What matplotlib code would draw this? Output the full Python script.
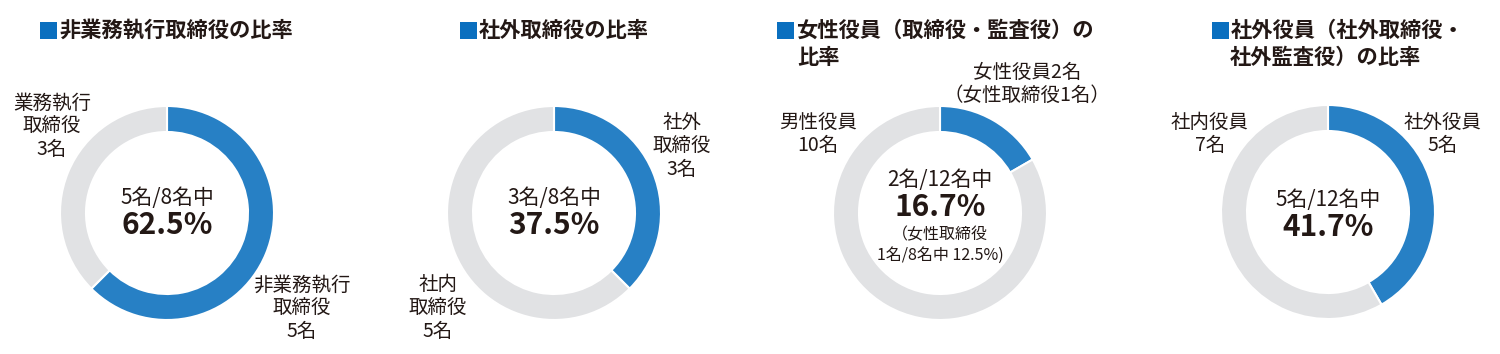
import matplotlib
matplotlib.use("Agg")
import matplotlib.pyplot as plt
from matplotlib.patches import Rectangle

plt.rcParams['font.family'] = ['Noto Sans CJK JP', 'DejaVu Sans']

W, H = 1500, 354

# ---- data ----
titles = [
    ["非業務執行取締役の比率"],
    ["社外取締役の比率"],
    ["女性役員（取締役・監査役）の", "比率"],
    ["社外役員（社外取締役・", "社外監査役）の比率"],
]
highlight_values = [5, 3, 2, 5]
other_values = [3, 5, 10, 7]
highlight_labels = [
    ["非業務執行", "取締役", "5名"],
    ["社外", "取締役", "3名"],
    ["女性役員2名", "（女性取締役1名）"],
    ["社外役員", "5名"],
]
other_labels = [
    ["業務執行", "取締役", "3名"],
    ["社内", "取締役", "5名"],
    ["男性役員", "10名"],
    ["社内役員", "7名"],
]
center_counts = ["5名/8名中", "3名/8名中", "2名/12名中", "5名/12名中"]
center_pcts = ["62.5%", "37.5%", "16.7%", "41.7%"]
extra_note = ["（女性取締役", "1名/8名中 12.5%)"]

# ---- layout (pixels) ----
BLUE = "#2780C5"
GREY = "#E1E2E4"
SQ = "#0A6FBF"
TXT = "#231815"
centers = [(167, 213), (554, 213), (940, 213), (1328, 212)]
R = 107
RING = 26
title_pos = [(40, 30), (460, 30), (777, 30), (1212, 30)]
title_line2_x = [None, None, 797, 1230]
hi_lab_pos = [(302, 285), (682, 123), (1027, 72), (1443, 122)]
ot_lab_pos = [(52, 103), (438, 285), (818, 122), (1210, 122)]
center_y = [(198, 225), (198, 225), (180, 207), (200, 227)]

fig = plt.figure(figsize=(W / 100, H / 100), dpi=100)
ax = fig.add_axes([0, 0, 1, 1])


def Y(y):
    return H - y


def lines(x, y0, texts, step=23, size=14, **kw):
    for i, t in enumerate(texts):
        ax.text(x, Y(y0 + i * step), t, ha='center', va='center',
                fontsize=size, color=TXT, **kw)


for i in range(4):
    cx, cy = centers[i]
    ax.pie([highlight_values[i], other_values[i]], colors=[BLUE, GREY],
           startangle=90, counterclock=False, radius=R,
           center=(cx, Y(cy)),
           wedgeprops=dict(width=RING, edgecolor='white', linewidth=1.5))
    # title
    sx, sy = title_pos[i]
    ax.add_patch(Rectangle((sx, Y(sy) - 8.5), 17, 17, color=SQ, lw=0))
    ax.text(sx + 19, Y(sy), titles[i][0], ha='left', va='center',
            fontsize=15.3, fontweight='bold', color=TXT)
    if len(titles[i]) > 1:
        ax.text(title_line2_x[i], Y(sy + 27), titles[i][1], ha='left',
                va='center', fontsize=15.3, fontweight='bold', color=TXT)
    # labels
    hx, hy = hi_lab_pos[i]
    lines(hx, hy, highlight_labels[i])
    ox, oy = ot_lab_pos[i]
    lines(ox, oy, other_labels[i])
    # center
    y1, y2 = center_y[i]
    ax.text(cx, Y(y1), center_counts[i], ha='center', va='center',
            fontsize=15, color=TXT)
    ax.text(cx, Y(y2), center_pcts[i], ha='center', va='center',
            fontsize=21.5, fontweight='bold', color=TXT)
    if i == 2:
        lines(cx, 235, extra_note, step=20, size=11.5)

ax.set_xlim(0, W)
ax.set_ylim(0, H)
ax.set_aspect('equal')
ax.axis('off')
fig.savefig("out.png", dpi=100, facecolor='white')
